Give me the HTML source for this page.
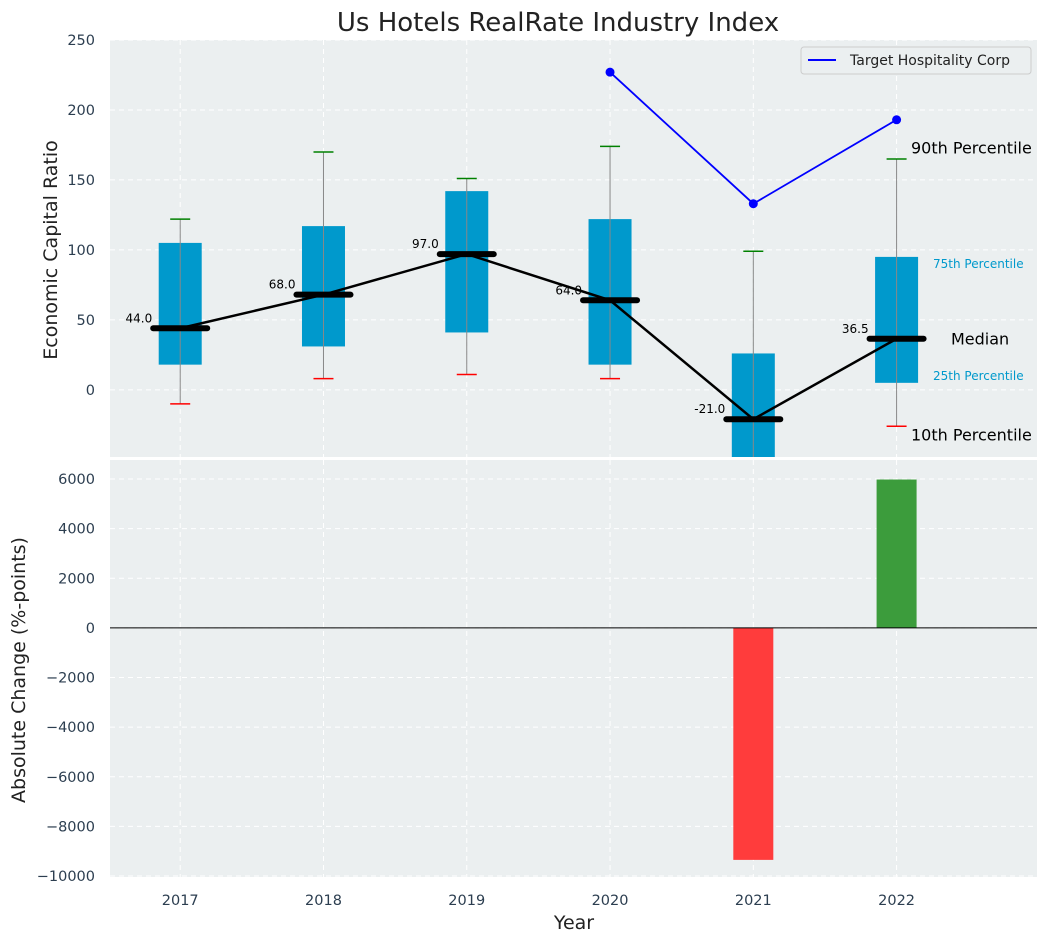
<!DOCTYPE html>
<html><head><meta charset="utf-8"><style>
body{margin:0;background:#fff;}
svg text{font-family:"DejaVu Sans","Liberation Sans",sans-serif;}
</style></head><body>
<svg id="c" width="1048" height="942" xmlns="http://www.w3.org/2000/svg"></svg>
<script>
const years=[2017,2018,2019,2020,2021,2022];
const p10=[-10,8,11,8,-60,-26];
const p25=[18,31,41,18,-60,5];
const med=[44,68,97,64,-21,36.5];
const p75=[105,117,142,122,26,95];
const p90=[122,170,151,174,99,165];
const targetYears=[2020,2021,2022];
const targetVals=[227,133,193];
const changeYears=[2021,2022];
const changeVals=[-9350,5980];
const topTicks=[0,50,100,150,200,250];
const botTicks=[-10000,-8000,-6000,-4000,-2000,0,2000,4000,6000];

const NS="http://www.w3.org/2000/svg";
const svg=document.getElementById('c');
function el(t,a,txt){const e=document.createElementNS(NS,t);for(const k in a)e.setAttribute(k,a[k]);if(txt!==undefined)e.textContent=txt;svg.appendChild(e);return e;}
const L=110,R=1037;
const xs=v=>L+(v-2016.51)/(2022.98-2016.51)*(R-L);
const T0=40,T1=457,tmin=-48,tmax=250;
const yt=v=>T1-(v-tmin)/(tmax-tmin)*(T1-T0);
const B0=460,B1=877,bmin=-10040,bmax=6766;
const yb=v=>B1-(v-bmin)/(bmax-bmin)*(B1-B0);

let e;
e=el('rect',{x:L,y:T0,width:R-L,height:T1-T0,fill:'#ebeff0'});

e=el('rect',{x:L,y:B0,width:R-L,height:B1-B0,fill:'#ebeff0'});

e=el('text',{x:558,y:31,'font-size':26,'text-anchor':'middle',fill:'#222'},'Us Hotels RealRate Industry Index');


years.forEach(y=>{
 e=el('line',{x1:xs(y),x2:xs(y),y1:T0,y2:T1,stroke:'#fff','stroke-dasharray':'5,4','stroke-width':1});
 
 e=el('line',{x1:xs(y),x2:xs(y),y1:B0,y2:B1,stroke:'#fff','stroke-dasharray':'5,4','stroke-width':1});
 
 e=el('text',{x:xs(y),y:905,'font-size':14.5,'text-anchor':'middle',fill:'#2c3e50'},String(y));
 
});
topTicks.forEach(t=>{
 e=el('line',{x1:L,x2:R,y1:yt(t),y2:yt(t),stroke:'#fff','stroke-dasharray':'5,4'});
 
 e=el('text',{x:95,y:yt(t)+5,'font-size':14.5,'text-anchor':'end',fill:'#2c3e50'},String(t));
 
});
botTicks.forEach(t=>{
 e=el('line',{x1:L,x2:R,y1:yb(t),y2:yb(t),stroke:'#fff','stroke-dasharray':'5,4'});
 
 e=el('text',{x:95,y:yb(t)+5,'font-size':14.5,'text-anchor':'end',fill:'#2c3e50'},(t<0?'\u2212'+(-t):String(t)));
 
});

const defs=el('defs',{});
const cp=document.createElementNS(NS,'clipPath');cp.setAttribute('id','tc');
const cr=document.createElementNS(NS,'rect');cr.setAttribute('x',L);cr.setAttribute('y',T0);cr.setAttribute('width',R-L);cr.setAttribute('height',T1-T0);
cp.appendChild(cr);defs.appendChild(cp);
const g=document.createElementNS(NS,'g');g.setAttribute('clip-path','url(#tc)');svg.appendChild(g);
function ge(t,a,txt){const x=el(t,a,txt);g.appendChild(x);return x;}

years.forEach((y,i)=>{
 const cx=xs(y),w=43;
 e=ge('rect',{x:cx-w/2,y:yt(p75[i]),width:w,height:yt(p25[i])-yt(p75[i]),fill:'#0099cc'});
 
 e=ge('line',{x1:cx,x2:cx,y1:yt(p90[i]),y2:yt(p10[i]),stroke:'#888','stroke-width':1});
 
 e=ge('line',{x1:cx-10,x2:cx+10,y1:yt(p90[i]),y2:yt(p90[i]),stroke:'green','stroke-width':1.5});
 
 e=ge('line',{x1:cx-10,x2:cx+10,y1:yt(p10[i]),y2:yt(p10[i]),stroke:'red','stroke-width':1.5});
 
});
e=ge('polyline',{points:years.map((y,i)=>xs(y)+','+yt(med[i])).join(' '),fill:'none',stroke:'#000','stroke-width':2.5});

years.forEach((y,i)=>{
 const cx=xs(y);
 e=ge('line',{x1:cx-27,x2:cx+27,y1:yt(med[i]),y2:yt(med[i]),stroke:'#000','stroke-width':6,'stroke-linecap':'round'});
 
 e=ge('text',{x:cx-28,y:yt(med[i])-6,'font-size':12,'text-anchor':'end',fill:'#000'},med[i].toFixed(1));
 
});
e=ge('polyline',{points:targetYears.map((y,i)=>xs(y)+','+yt(targetVals[i])).join(' '),fill:'none',stroke:'blue','stroke-width':1.8});

targetYears.forEach((y,i)=>{
 e=ge('circle',{cx:xs(y),cy:yt(targetVals[i]),r:4.5,fill:'blue'});
 
});
const li=years.length-1;
[[p90[li]+8,'90th Percentile',16,'#000',911],[p75[li]-5,'75th Percentile',12,'#0099cc',933],[med[li],'Median',16,'#000',951],[p25[li]+5,'25th Percentile',12,'#0099cc',933],[p10[li]-6,'10th Percentile',16,'#000',911]].forEach(a=>{
 e=el('text',{x:a[4],y:yt(a[0])+a[2]*0.36,'font-size':a[2],fill:a[3]},a[1]);
 
});
e=el('rect',{x:801,y:47,width:230,height:27,fill:'#ebeff0',stroke:'#ccc',rx:3});

e=el('line',{x1:808,x2:836,y1:60,y2:60,stroke:'blue','stroke-width':2});

e=el('text',{x:850,y:65,'font-size':14,fill:'#222'},'Target Hospitality Corp');


changeYears.forEach((y,i)=>{
 const v=changeVals[i],cx=xs(y);
 e=el('rect',{x:cx-20,y:Math.min(yb(v),yb(0)),width:40,height:Math.abs(yb(v)-yb(0)),fill:v<0?'#ff3c3c':'#3c9c3c'});
 
});
e=el('line',{x1:L,x2:R,y1:yb(0),y2:yb(0),stroke:'#000','stroke-width':1});


e=el('text',{x:0,y:0,'font-size':19,'text-anchor':'middle',fill:'#222',transform:'translate(57,250) rotate(-90)'},'Economic Capital Ratio');

e=el('text',{x:0,y:0,'font-size':19,'text-anchor':'middle',fill:'#222',transform:'translate(25,670) rotate(-90)'},'Absolute Change (%-points)');

e=el('text',{x:574,y:929,'font-size':19,'text-anchor':'middle',fill:'#222'},'Year');

</script>
</body></html>
